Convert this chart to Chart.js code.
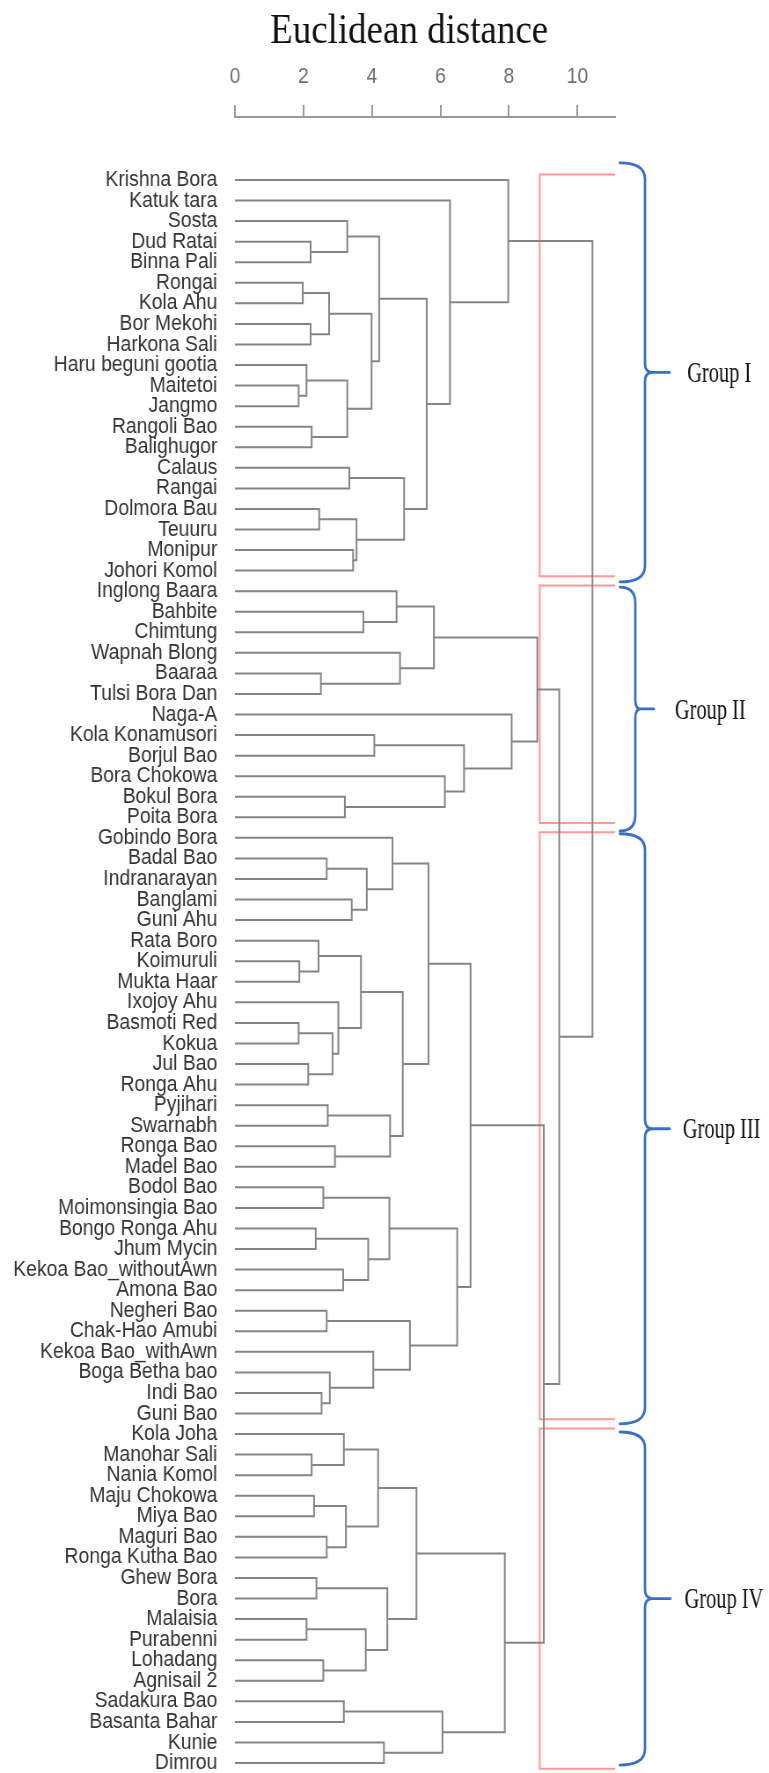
<!DOCTYPE html>
<html>
<head>
<meta charset="utf-8">
<title>Euclidean distance dendrogram</title>
<script src="https://cdn.jsdelivr.net/npm/chart.js@4.4.1/dist/chart.umd.min.js"></script>
<style>
  html, body { margin: 0; padding: 0; background: #fff; overflow: hidden; }
  /* the source figure is squeezed horizontally, so draw wide and squeeze */
  #wrap { width: 874px; height: 1773px; transform: scaleX(0.8799); transform-origin: 0 0; }
</style>
</head>
<body>
<div id="wrap"><canvas id="dendro" width="874" height="1773"></canvas></div>
<script>
const chartTitle = 'Euclidean distance'

const leafNames = [
  'Krishna Bora', 'Katuk tara', 'Sosta', 'Dud Ratai', 'Binna Pali', 'Rongai', 'Kola Ahu',
  'Bor Mekohi', 'Harkona Sali', 'Haru beguni gootia', 'Maitetoi', 'Jangmo', 'Rangoli Bao',
  'Balighugor', 'Calaus', 'Rangai', 'Dolmora Bau', 'Teuuru', 'Monipur', 'Johori Komol',
  'Inglong Baara', 'Bahbite', 'Chimtung', 'Wapnah Blong', 'Baaraa', 'Tulsi Bora Dan',
  'Naga-A', 'Kola Konamusori', 'Borjul Bao', 'Bora Chokowa', 'Bokul Bora', 'Poita Bora',
  'Gobindo Bora', 'Badal Bao', 'Indranarayan', 'Banglami', 'Guni Ahu', 'Rata Boro',
  'Koimuruli', 'Mukta Haar', 'Ixojoy Ahu', 'Basmoti Red', 'Kokua', 'Jul Bao', 'Ronga Ahu',
  'Pyjihari', 'Swarnabh', 'Ronga Bao', 'Madel Bao', 'Bodol Bao', 'Moimonsingia Bao',
  'Bongo Ronga Ahu', 'Jhum Mycin', 'Kekoa Bao_withoutAwn', 'Amona Bao', 'Negheri Bao',
  'Chak-Hao Amubi', 'Kekoa Bao_withAwn', 'Boga Betha bao', 'Indi Bao', 'Guni Bao',
  'Kola Joha', 'Manohar Sali', 'Nania Komol', 'Maju Chokowa', 'Miya Bao', 'Maguri Bao',
  'Ronga Kutha Bao', 'Ghew Bora', 'Bora', 'Malaisia', 'Purabenni', 'Lohadang', 'Agnisail 2',
  'Sadakura Bao', 'Basanta Bahar', 'Kunie', 'Dimrou'
]

// hclust style: negative = leaf number (1-based), positive = earlier merge (1-based)
const mergePairs = [
  [-4, -5], [-3, 1], [-6, -7], [-8, -9], [3, 4], [-11, -12], [-10, 6], [-13, -14], [7, 8],
  [5, 9], [2, 10], [-15, -16], [-17, -18], [-19, -20], [13, 14], [12, 15], [11, 16], [-2, 17],
  [-1, 18],
  [-22, -23], [-21, 20], [-25, -26], [-24, 22], [21, 23], [-28, -29], [-31, -32], [-30, 26],
  [25, 27], [-27, 28], [24, 29],
  [-34, -35], [-36, -37], [31, 32], [-33, 33], [-39, -40], [-38, 35], [-42, -43], [-44, -45],
  [37, 38], [-41, 39], [36, 40], [-46, -47], [-48, -49], [42, 43], [41, 44], [34, 45],
  [-50, -51], [-52, -53], [-54, -55], [48, 49], [47, 50], [-56, -57], [-60, -61], [-59, 53],
  [-58, 54], [52, 55], [51, 56], [46, 57],
  [-63, -64], [-62, 59], [-65, -66], [-67, -68], [61, 62], [60, 63], [-69, -70], [-71, -72],
  [-73, -74], [66, 67], [65, 68], [64, 69], [-75, -76], [-77, -78], [71, 72], [70, 73],
  [58, 74], [30, 75], [19, 76]
]

const mergeHeights = [
  2.21, 3.28, 1.98, 2.21, 2.75, 1.86, 2.09, 2.24, 3.28,
  3.99, 4.21, 3.34, 2.46, 3.45, 3.55, 4.94, 5.60, 6.28,
  7.98,
  3.75, 4.72, 2.51, 4.82, 5.81, 4.07, 3.21, 6.13,
  6.69, 8.08, 8.83,
  2.68, 3.41, 3.85, 4.60, 1.88, 2.44, 1.86, 2.14,
  2.85, 3.02, 3.68, 2.71, 2.92, 4.53, 4.90, 5.65,
  2.58, 2.36, 3.16, 3.89, 4.51, 2.68, 2.53, 2.77,
  4.04, 5.11, 6.49, 6.88,
  2.24, 3.18, 2.31, 2.68, 3.24, 4.18, 2.38, 2.09,
  2.58, 3.82, 4.45, 5.30, 3.18, 4.35, 6.06, 7.88,
  9.02, 9.47, 10.44
]

const xTicks = [0, 2, 4, 6, 8, 10]

const groupNames = ['Group I', 'Group II', 'Group III', 'Group IV']
const groupFirst = [0, 20, 32, 61]
const groupLast = [19, 31, 60, 77]

// layout constants
const X_MAX = 11.1
const RED_X = 8.9
const FIRST_Y = 180
const LAST_Y = 1763

// build the elbow lines of the tree in data units (distance, leaf order)
const nodeY = []
const nodeH = []
const refPos = (ref) => ref < 0
  ? { y: -ref - 1, h: 0 }
  : { y: nodeY[ref - 1], h: nodeH[ref - 1] }

const treePoints = []
mergePairs.forEach(([a, b], k) => {
  const A = refPos(a)
  const B = refPos(b)
  const H = mergeHeights[k]
  treePoints.push(
    { x: A.h, y: A.y }, { x: H, y: A.y }, { x: H, y: B.y }, { x: B.h, y: B.y },
    { x: null, y: null }
  )
  nodeY.push((A.y + B.y) / 2)
  nodeH.push(H)
})

const redPoints = []
groupFirst.forEach((first, g) => {
  const top = first - 0.27
  const bottom = groupLast[g] + 0.28
  redPoints.push(
    { x: X_MAX, y: top }, { x: RED_X, y: top }, { x: RED_X, y: bottom }, { x: X_MAX, y: bottom },
    { x: null, y: null }
  )
})

// title + blue braces with group names
const bracePlugin = {
  id: 'groupBraces',
  afterDraw(chart) {
    const { ctx } = chart
    const y = chart.scales.y
    const topPad = [0.83, 0.2, 0.2, 0.1]
    const botPad = [0.55, 0.66, 0.5, 0.1]
    const stemX = [733, 722, 733, 733]
    const tipX = [761, 743, 761, 762]
    const textX = [781, 767, 776, 778]
    const endX = 704.5

    ctx.save()
    ctx.fillStyle = '#111'
    ctx.font = '42px "Liberation Serif"'
    ctx.textAlign = 'center'
    ctx.textBaseline = 'alphabetic'
    ctx.fillText(chartTitle, 465, 43)

    ctx.strokeStyle = '#3b6fc2'
    ctx.lineWidth = 2.8
    ctx.lineCap = 'round'
    groupNames.forEach((name, g) => {
      const top = y.getPixelForValue(groupFirst[g] - topPad[g])
      const bottom = y.getPixelForValue(groupLast[g] + botPad[g])
      const mid = (top + bottom) / 2
      const sx = stemX[g]
      const kx = sx + (tipX[g] - sx) * 0.3
      const r = 16
      ctx.beginPath()
      ctx.moveTo(endX, top)
      ctx.quadraticCurveTo(sx, top, sx, top + r)
      ctx.lineTo(sx, mid - 9)
      ctx.quadraticCurveTo(sx, mid, kx, mid)
      ctx.lineTo(tipX[g], mid)
      ctx.moveTo(kx, mid)
      ctx.quadraticCurveTo(sx, mid, sx, mid + 9)
      ctx.lineTo(sx, bottom - r)
      ctx.quadraticCurveTo(sx, bottom, endX, bottom)
      ctx.stroke()

      ctx.save()
      ctx.translate(textX[g], mid + 2)
      ctx.scale(0.8, 1)
      ctx.font = '29px "Liberation Serif"'
      ctx.textAlign = 'left'
      ctx.textBaseline = 'middle'
      ctx.fillText(name, 0, 0)
      ctx.restore()
    })
    ctx.restore()
  }
}

const chart = new Chart(document.getElementById('dendro'), {
  type: 'scatter',
  data: {
    datasets: [
      {
        data: treePoints,
        showLine: true,
        spanGaps: false,
        clip: false,
        borderColor: '#858585',
        borderWidth: 2,
        pointRadius: 0,
        order: 0
      },
      {
        data: redPoints,
        showLine: true,
        spanGaps: false,
        clip: false,
        borderColor: 'rgba(255, 110, 110, 0.7)',
        borderWidth: 2,
        pointRadius: 0,
        order: 1
      }
    ]
  },
  options: {
    responsive: false,
    animation: false,
    layout: { padding: { left: 0, right: 175, top: 0, bottom: 0 } },
    plugins: {
      legend: { display: false },
      tooltip: { enabled: false }
    },
    scales: {
      x: {
        type: 'linear',
        position: 'top',
        min: 0,
        max: X_MAX,
        afterBuildTicks: (s) => { s.ticks = xTicks.map(v => ({ value: v })) },
        afterFit: (s) => { s.height = 117 },
        ticks: {
          font: { family: 'Liberation Sans', size: 22 },
          color: '#6e6e6e',
          padding: 15,
          maxRotation: 0
        },
        grid: { drawOnChartArea: false, drawTicks: true, tickLength: 12, color: '#9a9a9a', lineWidth: 2 },
        border: { display: true, color: '#9a9a9a', width: 2 }
      },
      y: {
        type: 'linear',
        reverse: true,
        min: -3,
        max: 77.5,
        afterBuildTicks: (s) => { s.ticks = leafNames.map((_, i) => ({ value: i })) },
        afterFit: (s) => { s.width = 267 },
        ticks: {
          autoSkip: false,
          padding: 20,
          callback: (v) => leafNames[v],
          font: { family: 'Liberation Sans', size: 22 },
          color: '#333'
        },
        grid: { display: false, drawTicks: false },
        border: { display: false }
      }
    }
  },
  plugins: [bracePlugin]
})

// fit the leaf spacing to the figure once the chart area is known
const area = chart.chartArea
const step = (LAST_Y - FIRST_Y) / (leafNames.length - 1)
const yMin = -(FIRST_Y - area.top) / step
chart.options.scales.y.min = yMin
chart.options.scales.y.max = yMin + (area.bottom - area.top) / step
chart.update('none')
</script>
</body>
</html>
